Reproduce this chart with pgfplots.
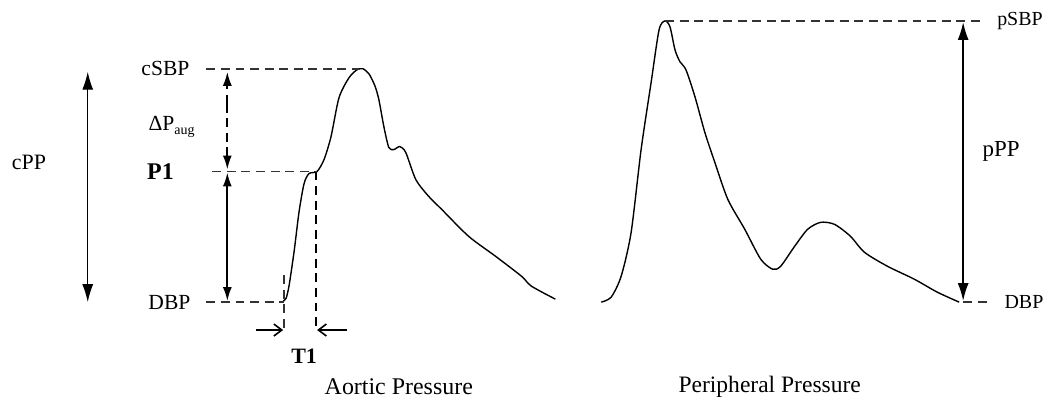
\documentclass[border=0pt]{standalone}
\usepackage{pgfplots}
\pgfplotsset{compat=1.18}
\usepackage{fontspec}
\setmainfont{Liberation Serif}
\usetikzlibrary{arrows.meta}
\begin{document}
\begin{tikzpicture}
\begin{axis}[
  scale only axis, width=525pt, height=202pt,
  xmin=0, xmax=1050, ymin=0, ymax=404, y dir=reverse,
  hide axis, clip=false,
  every node/.style={font=\fontsize{11}{13}\selectfont},
]
\path (axis cs:0,0) rectangle (axis cs:1050,404);
% aortic waveform
\addplot[black, line width=0.7pt, smooth, tension=0.45] coordinates {
(284,302) (287,299) (290,286) (295,252) (300,212) (305,184) (310,174) (318,172)
(325,160) (332,137) (340,98) (350,78) (358,70) (364,69) (370,74) (376,86) (380,100)
(385,127) (390,148) (395,150) (401,147) (407,153) (417,180) (430,197) (443,210)
(470,237) (497,257) (523,277) (533,287) (557,300)};
% peripheral waveform
\addplot[black, line width=0.7pt, smooth, tension=0.45] coordinates {
(603,303) (613,298) (623,277) (633,233) (643,150) (653,83) (661,30) (667,21)
(672,27) (677,50) (682,62) (688,70) (697,97) (707,133) (717,163) (730,200)
(747,230) (763,260) (775,270) (783,267) (797,247) (810,230) (823,223) (837,225)
(853,237) (867,253) (890,267) (917,280) (940,293) (962,303)};
% dashed guide lines
\begin{scope}[black!80, line width=0.75pt, dash pattern=on 4.5pt off 2.8pt]
\draw (axis cs:207,69) -- (axis cs:360,69);
\draw (axis cs:213,172) -- (axis cs:318,172);
\draw (axis cs:207,303) -- (axis cs:285,303);
\draw (axis cs:285,276) -- (axis cs:285,330);
\draw[line width=0.95pt, black] (axis cs:317,172) -- (axis cs:317,330);
\draw (axis cs:667,21) -- (axis cs:988,21);
\draw (axis cs:966,303) -- (axis cs:990,303);
\end{scope}
\begin{scope}[black, line width=0.95pt, dash pattern=on 4.5pt off 2.8pt]
\draw[-{Latex[length=7pt,width=4.5pt]}] (axis cs:228,104) -- (axis cs:228,72);
\draw[-{Latex[length=7pt,width=4.5pt]}] (axis cs:228,104) -- (axis cs:228,170);
\end{scope}
% solid arrows
\draw[line width=0.95pt, {Latex[length=7pt,width=4.5pt]}-{Latex[length=7pt,width=4.5pt]}] (axis cs:228,173) -- (axis cs:228,302);
\draw[line width=0.6pt, {Latex[length=9pt,width=5.5pt]}-{Latex[length=9pt,width=5.5pt]}] (axis cs:88,72) -- (axis cs:88,303);
\draw[line width=0.95pt, {Latex[length=9pt,width=5.5pt]}-{Latex[length=9pt,width=5.5pt]}] (axis cs:966,22) -- (axis cs:966,302);
\draw[line width=0.8pt, -{Straight Barb[length=4pt,width=6pt]}] (axis cs:257,331) -- (axis cs:284,331);
\draw[line width=0.8pt, -{Straight Barb[length=4pt,width=6pt]}] (axis cs:348,331) -- (axis cs:318,331);
% labels
\node[anchor=east, font=\fontsize{10.8}{12}\selectfont] at (axis cs:197,69) {cSBP};
\node[font=\fontsize{10.8}{12}\selectfont] at (axis cs:172,127) {ΔP\raisebox{-0.45ex}{\fontsize{7}{8}\selectfont aug}};
\node[font=\fontsize{12}{13}\selectfont] at (axis cs:161,172) {\textbf{P1}};
\node[anchor=east, font=\fontsize{10.8}{12}\selectfont] at (axis cs:198,303) {DBP};
\node[font=\fontsize{11}{13}\selectfont] at (axis cs:305,357) {\textbf{T1}};
\node[font=\fontsize{11}{13}\selectfont] at (axis cs:29,163) {cPP};
\node at (axis cs:1023,21) {pSBP};
\node[font=\fontsize{11.5}{14}\selectfont] at (axis cs:1004,152) {pPP};
\node at (axis cs:1027,303) {DBP};
\node[font=\fontsize{12}{14}\selectfont] at (axis cs:400,388) {Aortic Pressure};
\node[font=\fontsize{11.8}{14}\selectfont] at (axis cs:772,388) {Peripheral Pressure};
\end{axis}
\end{tikzpicture}
\end{document}
